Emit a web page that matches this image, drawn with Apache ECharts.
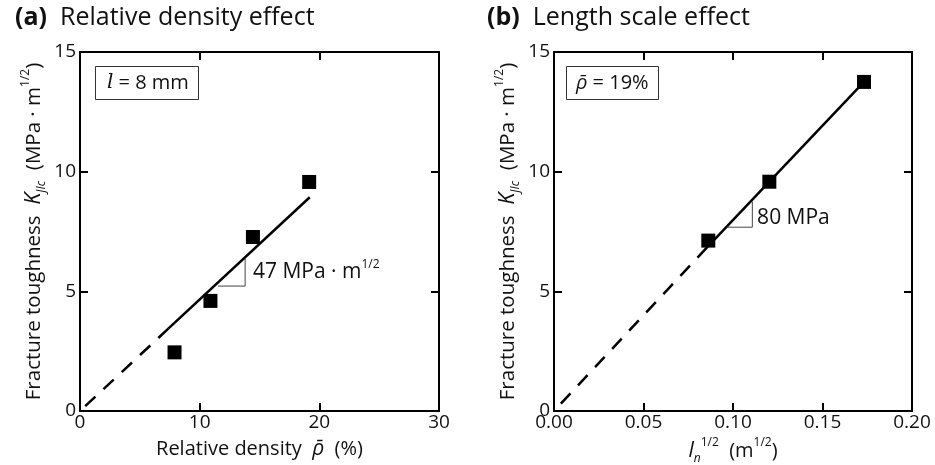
<!DOCTYPE html>
<html><head><meta charset="utf-8">
<script src="https://cdn.jsdelivr.net/npm/echarts@6/dist/echarts.min.js"></script>
<style>html,body{margin:0;padding:0;background:#fff}#c{width:935px;height:465px}</style>
</head><body><div id="c"></div>
<script>
// Panel (a): relative density effect
const densityPct = [7.9, 10.9, 14.45, 19.15];
const kjicA = [2.45, 4.6, 7.27, 9.57];
const fitSolidA = [[7.4, 3.45], [19.2, 8.93]];
const fitDashA = [[7.4, 3.45], [0, 0]];
const slopeTriA = [[11.53, 5.22], [13.8, 5.22], [13.8, 6.36]];
const slopeLabelA = [14.2, 5.8];
const xTicksA = ['0', '10', '20', '30'];
// Panel (b): length scale effect
const lengthSqrt = [0.0862, 0.1203, 0.1732];
const kjicB = [7.12, 9.58, 13.75];
const fitSolidB = [[0.0855, 6.84], [0.1732, 13.75]];
const fitDashB = [[0.0855, 6.84], [0, 0]];
const slopeTriB = [[0.0965, 7.68], [0.1108, 7.68], [0.1108, 8.75]];
const slopeLabelB = [0.1118, 8.08];
const xTicksB = ['0.00', '0.05', '0.10', '0.15', '0.20'];
const yTicks = ['0', '5', '10', '15'];

const FONT = '"Open Sans", "Noto Sans", sans-serif';
const TXT = '#111';

function mkRich(fs) {
  return {
    n: {fontSize: fs, fontFamily: FONT, fontWeight: 'normal', color: TXT, lineHeight: 28, verticalAlign: 'middle'},
    i: {fontSize: fs + 1, fontFamily: FONT, fontStyle: 'italic', fontWeight: 'normal', color: TXT, lineHeight: 28, verticalAlign: 'middle'},
    sub: {fontSize: 12, fontFamily: FONT, fontStyle: 'italic', fontWeight: 'normal', color: TXT, lineHeight: 10, verticalAlign: 'bottom'},
    sup: {fontSize: 12, fontFamily: FONT, fontWeight: 'normal', color: TXT, lineHeight: 14, verticalAlign: 'top'}
  };
}

const yName = '{n|Fracture toughness  }{i|K}{sub|JIc}{n|  (MPa · m}{sup|1/2}{n|)}';

function bottomAxis(grid, min, max, interval, labels, name, gap) {
  return {
    type: 'value', gridIndex: grid, min: min, max: max, interval: interval, position: 'bottom',
    axisLine: {show: true, onZero: false, lineStyle: {color: '#000', width: 2}},
    axisTick: {show: true, inside: true, length: 8, lineStyle: {color: '#000', width: 2}},
    splitLine: {show: false},
    axisLabel: {fontFamily: FONT, fontSize: 19, color: TXT, margin: 2,
      formatter: function (v) { return labels[Math.round((v - min) / interval)]; }},
    name: name, nameLocation: 'middle', nameGap: gap,
    nameTextStyle: {color: TXT, rich: mkRich(20)}
  };
}
function topAxis(grid, min, max, interval) {
  return {
    type: 'value', gridIndex: grid, min: min, max: max, interval: interval, position: 'top',
    axisLine: {show: true, onZero: false, lineStyle: {color: '#000', width: 2}},
    axisTick: {show: true, inside: true, length: 8, lineStyle: {color: '#000', width: 2}},
    splitLine: {show: false}, axisLabel: {show: false}
  };
}
function leftAxis(grid) {
  return {
    type: 'value', gridIndex: grid, min: 0, max: 15, interval: 5, position: 'left',
    axisLine: {show: true, onZero: false, lineStyle: {color: '#000', width: 2}},
    axisTick: {show: true, inside: true, length: 8, lineStyle: {color: '#000', width: 2}},
    splitLine: {show: false},
    axisLabel: {fontFamily: FONT, fontSize: 19, color: TXT, margin: 4,
      formatter: function (v) { return yTicks[Math.round(v / 5)]; }},
    name: yName, nameLocation: 'middle', nameGap: 32, nameRotate: 90,
    nameTextStyle: {color: TXT, rich: mkRich(20.5)}
  };
}
function rightAxis(grid) {
  return {
    type: 'value', gridIndex: grid, min: 0, max: 15, interval: 5, position: 'right',
    axisLine: {show: true, onZero: false, lineStyle: {color: '#000', width: 2}},
    axisTick: {show: true, inside: true, length: 8, lineStyle: {color: '#000', width: 2}},
    splitLine: {show: false}, axisLabel: {show: false}
  };
}
const titleRich = {
  b: {fontSize: 25, fontWeight: 'bold', fontFamily: FONT, color: TXT},
  n: {fontSize: 25, fontWeight: 'normal', fontFamily: FONT, color: TXT}
};

const chart = echarts.init(document.getElementById('c'), null, {renderer: 'canvas'});
chart.setOption({
  animation: false,
  backgroundColor: '#fff',
  title: [
    {text: '{b|(a)}{n|  Relative density effect}', left: 10, top: 0, textStyle: {rich: titleRich}},
    {text: '{b|(b)}{n|  Length scale effect}', left: 482, top: 0, textStyle: {rich: titleRich}},
    {text: '{i|l}{n| = 8 mm}', left: 95, top: 66, borderColor: '#333', borderWidth: 1, padding: [3, 10, 3, 12],
      textStyle: {lineHeight: 28, fontSize: 20, fontWeight: 'normal',
        rich: {i: {fontSize: 20, fontStyle: 'italic', fontWeight: 'normal', fontFamily: '"DejaVu Serif", serif', color: TXT, lineHeight: 28},
        n: {fontSize: 20, fontWeight: 'normal', fontFamily: FONT, color: TXT, lineHeight: 28}}}},
    {text: '{i|ρ\u0304}{n| = 19%}', left: 566, top: 66, borderColor: '#333', borderWidth: 1, padding: [3, 10, 3, 10],
      textStyle: {lineHeight: 28, fontSize: 20, fontWeight: 'normal',
        rich: {i: {fontSize: 20, fontStyle: 'italic', fontWeight: 'normal', fontFamily: FONT, color: TXT, lineHeight: 28},
        n: {fontSize: 20, fontWeight: 'normal', fontFamily: FONT, color: TXT, lineHeight: 28}}}}
  ],
  grid: [
    {left: 80, right: 496, top: 52, bottom: 54, containLabel: false, outerBoundsMode: 'none'},
    {left: 554, right: 23, top: 52, bottom: 54, containLabel: false, outerBoundsMode: 'none'}
  ],
  xAxis: [
    bottomAxis(0, 0, 30, 10, xTicksA, '{n|Relative density  }{i|ρ\u0304}{n|  (%)}', 24),
    topAxis(0, 0, 30, 10),
    bottomAxis(1, 0, 0.2, 0.05, xTicksB, '{i|l}{sub|n}{sup|1/2}{n|  (m}{sup|1/2}{n|)}', 24),
    topAxis(1, 0, 0.2, 0.05)
  ],
  yAxis: [leftAxis(0), rightAxis(0), leftAxis(1), rightAxis(1)],
  series: [
    {type: 'line', xAxisIndex: 0, yAxisIndex: 0, data: fitDashA, symbol: 'none',
      lineStyle: {color: '#000', width: 2.5, type: [14, 11]}},
    {type: 'line', xAxisIndex: 0, yAxisIndex: 0, data: fitSolidA, symbol: 'none',
      lineStyle: {color: '#000', width: 2.5}},
    {type: 'line', xAxisIndex: 0, yAxisIndex: 0, data: slopeTriA, symbol: 'none',
      lineStyle: {color: '#444', width: 1}},
    {type: 'scatter', xAxisIndex: 0, yAxisIndex: 0, symbol: 'rect', symbolSize: 14,
      itemStyle: {color: '#000', opacity: 1}, data: densityPct.map((x, k) => [x, kjicA[k]])},
    {type: 'scatter', xAxisIndex: 0, yAxisIndex: 0, symbolSize: 0, data: [slopeLabelA],
      itemStyle: {opacity: 1},
      label: {show: true, position: 'right', distance: 3, color: TXT,
        formatter: '{n|47 MPa · m}{sup|1/2}', rich: mkRich(21)}},
    {type: 'line', xAxisIndex: 2, yAxisIndex: 2, data: fitDashB, symbol: 'none',
      lineStyle: {color: '#000', width: 2.5, type: [14, 11]}},
    {type: 'line', xAxisIndex: 2, yAxisIndex: 2, data: fitSolidB, symbol: 'none',
      lineStyle: {color: '#000', width: 2.5}},
    {type: 'line', xAxisIndex: 2, yAxisIndex: 2, data: slopeTriB, symbol: 'none',
      lineStyle: {color: '#444', width: 1}},
    {type: 'scatter', xAxisIndex: 2, yAxisIndex: 2, symbol: 'rect', symbolSize: 14,
      itemStyle: {color: '#000', opacity: 1}, data: lengthSqrt.map((x, k) => [x, kjicB[k]])},
    {type: 'scatter', xAxisIndex: 2, yAxisIndex: 2, symbolSize: 0, data: [slopeLabelB],
      itemStyle: {opacity: 1},
      label: {show: true, position: 'right', distance: 3, color: TXT,
        formatter: '{n|80 MPa}', rich: mkRich(21)}}
  ]
});
</script></body></html>
